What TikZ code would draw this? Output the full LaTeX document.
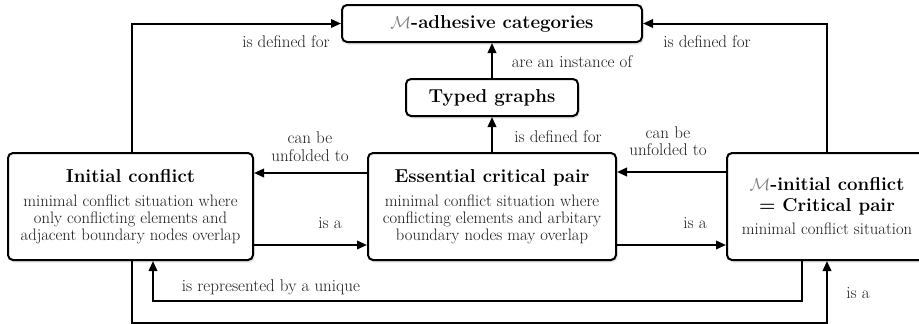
\documentclass[tikz,border=0pt]{standalone}
\usepackage{fontspec}
\usetikzlibrary{arrows.meta,shadows}
\definecolor{lblc}{gray}{0.12}
\definecolor{descc}{gray}{0.1}
\newcommand{\ttl}{\fontsize{18.7}{21}\selectfont\bfseries}
\newcommand{\dsc}{\fontsize{16.6}{17}\selectfont\color{descc}}
\newcommand{\Mc}{\textcolor{gray}{$\mathcal{M}$}}
\begin{document}
\begin{tikzpicture}[x=1pt,y=-1pt,
  box/.style={draw,line width=2pt,rounded corners=5pt,fill=white,
    drop shadow={opacity=0.2,shadow xshift=1.5pt,shadow yshift=-2.5pt},
    inner sep=0pt,align=center,font=\fontsize{16.6}{17}\selectfont},
  conn/.style={line width=2pt,-{Triangle[length=10pt,width=8.5pt]}},
  lbl/.style={text=lblc,font=\fontsize{17}{17.5}\selectfont,inner sep=0pt,align=center}]
\clip (0,0) rectangle (919,324);
\fill[white] (0,0) rectangle (919,324);

\node[box,minimum width=300pt,minimum height=37pt] (top) at (492,23.5)
  {\ttl\Mc-adhesive categories};
\node[box,minimum width=172pt,minimum height=37pt] (typed) at (492,97.5)
  {\ttl Typed graphs};
\node[box,minimum width=245pt,minimum height=107pt] (left) at (130.5,206.5)
  {{\ttl Initial conflict}\\[7pt]
   {\dsc minimal conflict situation where}\\
   {\dsc only conflicting elements and}\\
   {\dsc adjacent boundary nodes overlap}};
\node[box,minimum width=248pt,minimum height=107pt] (mid) at (492,206.5)
  {{\ttl Essential critical pair}\\[7pt]
   {\dsc minimal conflict situation where}\\
   {\dsc conflicting elements and arbitary}\\
   {\dsc boundary nodes may overlap}};
\node[box,minimum width=200pt,minimum height=107pt] (right) at (827,206.5)
  {{\ttl \Mc-initial conflict}\\[4pt]
   {\ttl = Critical pair}\\[6pt]
   {\dsc minimal conflict situation}};

% horizontal connectors
\draw[conn] ([yshift=33.5pt]mid.west) -- ([yshift=33.5pt]left.east);
\draw[conn] ([yshift=-38.5pt]left.east) -- ([yshift=-38.5pt]mid.west);
\draw[conn] ([yshift=34.5pt]right.west) -- ([yshift=34.5pt]mid.east);
\draw[conn] ([yshift=-38.5pt]mid.east) -- ([yshift=-38.5pt]right.west);
% vertical middle
\draw[conn] (mid.north) -- (typed.south);
\draw[conn] (typed.north) -- (top.south);
% to top box
\draw[conn] ([xshift=1.5pt]left.north) |- (top.west);
\draw[conn] (right.north) |- (top.east);
% bottom loops
\draw[conn] ([xshift=-25pt]right.south) -- ++(0,40) -| ([xshift=22.5pt]left.south);
\draw[conn] ([xshift=1.5pt]left.south) -- ++(0,61.5) -| (right.south);

% labels
\node[lbl] (l1) at (286,42) {is defined for};
\node[lbl] (l2) at (707,42) {is defined for};
\node[lbl] (l3) at (572,62) {are an instance of};
\node[lbl] (l4) at (558,137) {is defined for};
\node[lbl] (l5) at (310,146.5) {can be\\unfolded to};
\node[lbl] (l6) at (668,141) {can be\\unfolded to};
\node[lbl] (l7) at (330,223) {is a};
\node[lbl] (l8) at (695,223) {is a};
\node[lbl] (l9) at (271,287) {is represented by a unique};
\node[lbl] (l10) at (858,293) {is a};
\end{tikzpicture}
\end{document}
